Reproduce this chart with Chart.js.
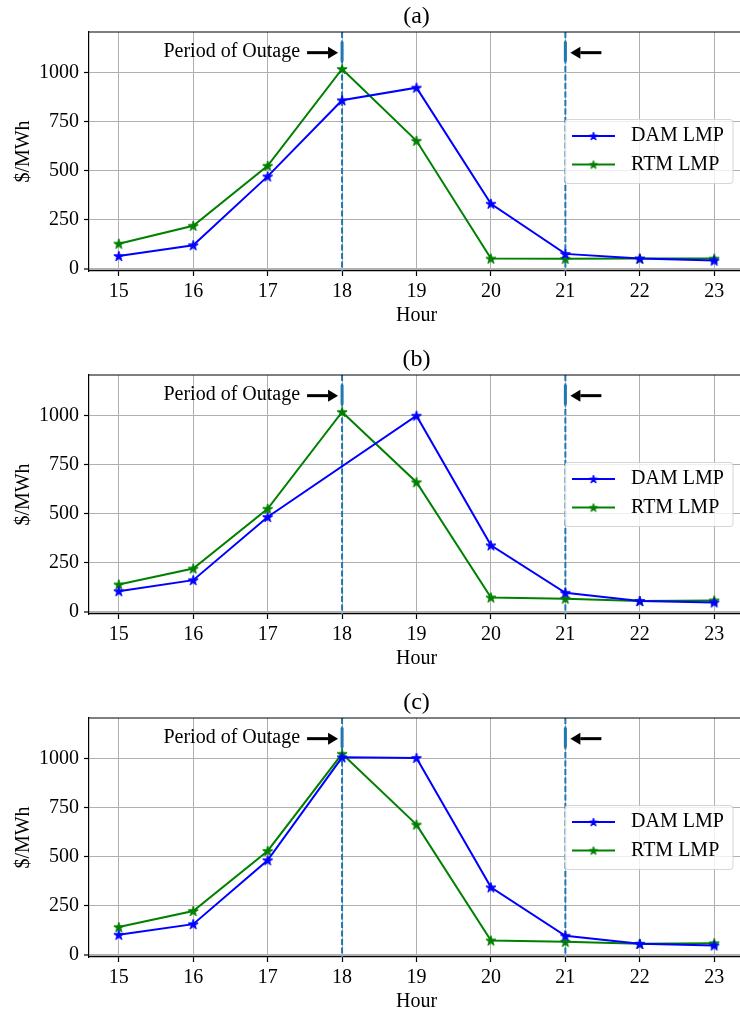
<!DOCTYPE html>
<html>
<head>
<meta charset="utf-8">
<script src="https://cdn.jsdelivr.net/npm/chart.js@4.4.0/dist/chart.umd.min.js"></script>
<style>
  html, body { margin: 0; padding: 0; background: #fff; overflow: hidden; }
  #wrap { position: relative; width: 740px; height: 1012px; overflow: hidden; }
  canvas { position: absolute; left: 0; }
</style>
</head>
<body>
<div id="wrap">
  <canvas id="chartA" width="744" height="343" style="top:0px"></canvas>
  <canvas id="chartB" width="744" height="343" style="top:343px"></canvas>
  <canvas id="chartC" width="744" height="343" style="top:686px"></canvas>
</div>
<script>
// hours on the x axis, LMP in $/MWh
const hours = [15, 16, 17, 18, 19, 20, 21, 22, 23];
const yTicks = [0, 250, 500, 750, 1000];
const damA = [66, 121, 471, 858, 922, 332, 77, 53, 43];
const rtmA = [129, 220, 525, 1017, 652, 53, 52, 53, 53];
const damB = [106, 162, 483, null, 998, 339, 98, 56, 49];
const rtmB = [140, 221, 525, 1017, 660, 74, 68, 56, 59];
const damC = [103, 157, 482, 1005, 1002, 344, 98, 57, 49];
const rtmC = [142, 224, 529, 1023, 663, 74, 67, 57, 60];
const outageStart = 18;
const outageEnd = 21;
const arrowLevel = 1100;

const serif = 'Liberation Serif, Times New Roman, serif';
const font = { family: serif, size: 20 };
const BLUE = '#0000ff', GREEN = '#008000', VLINE = '#1f77b4';

// filled five point star like matplotlib's '*' marker
function starImage(color, R) {
  const size = Math.ceil(R * 2 + 3);
  const c = document.createElement('canvas');
  c.width = c.height = size;
  const g = c.getContext('2d');
  const r = R * 0.382;
  g.beginPath();
  for (let i = 0; i < 10; i++) {
    const a = -Math.PI / 2 + i * Math.PI / 5;
    const rad = i % 2 ? r : R;
    g.lineTo(size / 2 + rad * Math.cos(a), size / 2 + 0.5 + rad * Math.sin(a));
  }
  g.closePath();
  g.fillStyle = color;
  g.fill();
  g.strokeStyle = color;
  g.lineWidth = 1;
  g.stroke();
  return c;
}
const starBlue = starImage(BLUE, 5.3);
const starGreen = starImage(GREEN, 5.3);
const legBlue = starImage(BLUE, 4.3);
const legGreen = starImage(GREEN, 4.3);

function arrow(ctx, fromX, toX, py) {
  const dir = Math.sign(toX - fromX);
  const head = 10;
  ctx.strokeStyle = '#000';
  ctx.fillStyle = '#000';
  ctx.lineWidth = 3;
  ctx.beginPath();
  ctx.moveTo(fromX, py);
  ctx.lineTo(toX - dir * head, py);
  ctx.stroke();
  ctx.beginPath();
  ctx.moveTo(toX, py);
  ctx.lineTo(toX - dir * head, py - 6);
  ctx.lineTo(toX - dir * head, py + 6);
  ctx.closePath();
  ctx.fill();
}

const outagePlugin = {
  id: 'outage',
  beforeDatasetsDraw(chart) {
    const { ctx, chartArea: a, scales: { x, y } } = chart;
    ctx.save();
    ctx.strokeStyle = VLINE;
    [outageStart, outageEnd].forEach(h => {
      const px = x.getPixelForValue(h);
      ctx.lineWidth = 2;
      ctx.setLineDash([6, 2.5]);
      ctx.beginPath();
      ctx.moveTo(px, a.top);
      ctx.lineTo(px, a.bottom);
      ctx.stroke();
      ctx.setLineDash([]);
      ctx.lineWidth = 3;
      ctx.beginPath();
      ctx.moveTo(px, y.getPixelForValue(1155));
      ctx.lineTo(px, y.getPixelForValue(1055));
      ctx.stroke();
    });
    ctx.restore();
  },
  afterDatasetsDraw(chart) {
    const { ctx, chartArea: a, scales: { x, y } } = chart;
    ctx.save();
    const py = y.getPixelForValue(arrowLevel);
    const x18 = x.getPixelForValue(outageStart);
    const x21 = x.getPixelForValue(outageEnd);
    arrow(ctx, x18 - 35, x18 - 4, py);
    arrow(ctx, x21 + 36, x21 + 5, py);
    ctx.font = '20px ' + serif;
    ctx.fillStyle = '#000';
    ctx.textAlign = 'right';
    ctx.textBaseline = 'middle';
    ctx.fillText('Period of Outage', x18 - 42, py - 1);

    // panel title, centred over the axes
    ctx.textAlign = 'center';
    ctx.font = '24px ' + serif;
    ctx.fillText(chart.options.panelLabel, (a.left + a.right) / 2, 17);
    ctx.font = '20px ' + serif;

    // legend, centre right
    const w = 168, h = 64;
    const lx = a.right - 11 - w;
    const ly = (a.top + a.bottom) / 2 - h / 2;
    ctx.beginPath();
    ctx.roundRect(lx, ly, w, h, 3);
    ctx.fillStyle = 'rgba(255,255,255,0.8)';
    ctx.fill();
    ctx.strokeStyle = 'rgba(204,204,204,0.8)';
    ctx.lineWidth = 1;
    ctx.stroke();
    const entries = [['DAM LMP', BLUE, legBlue], ['RTM LMP', GREEN, legGreen]];
    entries.forEach(([txt, col, img], i) => {
      const ey = ly + 16.5 + i * 28.5;
      ctx.strokeStyle = col;
      ctx.lineWidth = 2;
      ctx.beginPath();
      ctx.moveTo(lx + 7, ey);
      ctx.lineTo(lx + 50, ey);
      ctx.stroke();
      ctx.drawImage(img, lx + 28.5 - img.width / 2, ey - img.height / 2);
      ctx.fillStyle = '#000';
      ctx.textAlign = 'left';
      ctx.fillText(txt, lx + 66, ey);
    });

    // top and right spines
    ctx.strokeStyle = '#000';
    ctx.lineWidth = 1.2;
    ctx.beginPath();
    ctx.moveTo(a.left, a.top);
    ctx.lineTo(a.right, a.top);
    ctx.lineTo(a.right, a.bottom);
    ctx.stroke();
    ctx.restore();
  }
};

function makeChart(id, label, dam, rtm) {
  return new Chart(document.getElementById(id), {
    type: 'line',
    data: {
      datasets: [{
        label: 'DAM LMP',
        data: hours.map((h, i) => ({ x: h, y: dam[i] })),
        borderColor: BLUE,
        backgroundColor: BLUE,
        borderWidth: 2,
        pointStyle: starBlue,
        spanGaps: true,
        tension: 0
      }, {
        label: 'RTM LMP',
        data: hours.map((h, i) => ({ x: h, y: rtm[i] })),
        borderColor: GREEN,
        backgroundColor: GREEN,
        borderWidth: 2,
        pointStyle: starGreen,
        spanGaps: true,
        tension: 0
      }]
    },
    options: {
      panelLabel: label,
      responsive: false,
      animation: false,
      layout: { autoPadding: false, padding: { top: 32, right: 0, bottom: 0, left: 0 } },
      plugins: {
        legend: { display: false },
        tooltip: { enabled: false },
        title: { display: false }
      },
      scales: {
        x: {
          type: 'linear',
          min: 14.6,
          max: 23.4,
          afterBuildTicks: s => { s.ticks = hours.map(v => ({ value: v })); },
          afterFit: s => { s.height = 72; s.paddingLeft = 0; s.paddingRight = 0; },
          grid: { color: '#b0b0b0', lineWidth: 1, tickColor: '#000', tickLength: 5, tickWidth: 1.2 },
          border: { color: '#000', width: 1.2 },
          ticks: { font, color: '#000', padding: 4, maxRotation: 0 },
          title: { display: true, text: 'Hour', font, color: '#000', padding: { top: 0, bottom: 15 } }
        },
        y: {
          min: -10,
          max: 1205,
          afterBuildTicks: s => { s.ticks = yTicks.map(v => ({ value: v })); },
          afterFit: s => { s.width = 89; s.paddingTop = 0; s.paddingBottom = 0; },
          grid: {
            color: '#b0b0b0',
            lineWidth: c => (c.tick && c.tick.value === 0 ? 2 : 1),
            tickColor: '#000',
            tickLength: 5,
            tickWidth: 1.2
          },
          border: { color: '#000', width: 1.2 },
          ticks: { font, color: '#000', padding: 5, callback: v => String(v) },
          title: { display: true, text: '$/MWh', font, color: '#000', padding: { top: 12, bottom: 0 } }
        }
      }
    },
    plugins: [outagePlugin]
  });
}

makeChart('chartA', '(a)', damA, rtmA);
makeChart('chartB', '(b)', damB, rtmB);
makeChart('chartC', '(c)', damC, rtmC);
</script>
</body>
</html>
